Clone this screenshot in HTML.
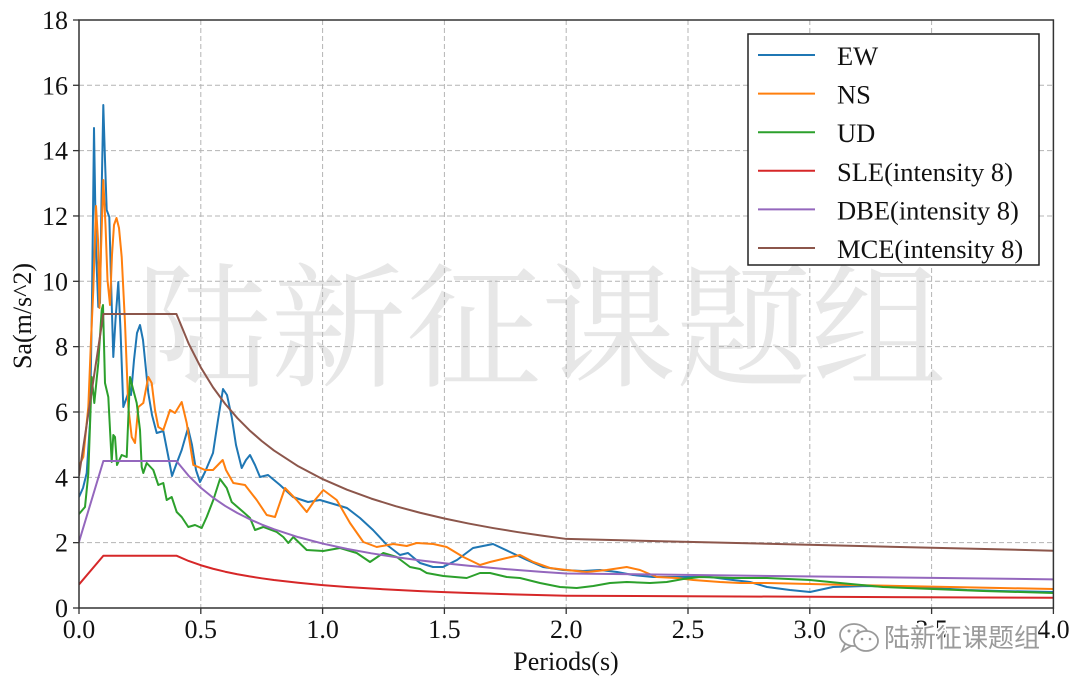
<!DOCTYPE html>
<html><head><meta charset="utf-8"><style>
html,body{margin:0;padding:0;background:#fff;}
svg{display:block;}
text{font-family:"Liberation Serif","Noto Serif CJK SC",serif;}
</style></head><body>
<svg width="1080" height="686" viewBox="0 0 1080 686" xmlns="http://www.w3.org/2000/svg">
<defs><clipPath id="pa"><rect x="79" y="20" width="974.4" height="588"/></clipPath></defs>
<rect width="1080" height="686" fill="#fff"/>
<!-- big watermark -->
<text x="136" y="376" font-size="135" fill="#e7e7e7" style="font-family:'Noto Serif CJK SC','Noto Sans CJK SC',serif">陆新征课题组</text>
<!-- grid -->
<g stroke="#b4b4b4" stroke-width="1" stroke-dasharray="5,3" fill="none">
<line x1="200.8" y1="20" x2="200.8" y2="608"/><line x1="322.6" y1="20" x2="322.6" y2="608"/>
<line x1="444.4" y1="20" x2="444.4" y2="608"/><line x1="566.2" y1="20" x2="566.2" y2="608"/>
<line x1="688" y1="20" x2="688" y2="608"/><line x1="809.8" y1="20" x2="809.8" y2="608"/>
<line x1="931.6" y1="20" x2="931.6" y2="608"/>
<line x1="79" y1="542.66" x2="1053.4" y2="542.66"/><line x1="79" y1="477.32" x2="1053.4" y2="477.32"/>
<line x1="79" y1="411.98" x2="1053.4" y2="411.98"/><line x1="79" y1="346.64" x2="1053.4" y2="346.64"/>
<line x1="79" y1="281.3" x2="1053.4" y2="281.3"/><line x1="79" y1="215.96" x2="1053.4" y2="215.96"/>
<line x1="79" y1="150.62" x2="1053.4" y2="150.62"/><line x1="79" y1="85.28" x2="1053.4" y2="85.28"/>
</g>
<g clip-path="url(#pa)" fill="none" stroke-width="2" stroke-linejoin="round">
<!-- EW -->
<polyline stroke="#1f77b4" points="79,497 83,488 86.7,473 90,423 92,300 94,128 96,250 98.3,307 100,303 101.5,200 103.3,105 105,160 106.7,210 109.3,217 111,280 113.3,357 115.5,320 118.3,282 120.5,330 123.3,407 128.3,393 131,395 134,360 137,333 140,325 143,340 148.3,393 152,415 156.7,433 163.3,431 168,455 172,476 176,465 181.7,450 188,428 192,445 196,470 200,482 205,472 213,453 218,420 223,389 227,395 231.7,417 236,445 241.7,468 246,460 250,455 255,465 260,477 268,475 280,485 293,497 308,502 320,500 337,505 347,508 360,518 373,530 387,545 400,555 408,553 420,563 433,567 443,567 457,560 473,548 493,544 510,552 527,560 543,567 563,570 583,571 600,570 617,572 633,575 653,577 673,577 693,577 710,577 733,580 750,582 767,587 790,590 810,592 833,587 867,586 900,587 933,588 967,590 1000,591 1054,592"/>
<!-- NS -->
<polyline stroke="#ff7f0e" points="79,466 83.3,457 88.3,407 91,340 93.3,290 96,206 98,240 99.5,308 101,250 103.3,180 105.5,225 107.5,280 110,305 112,255 114,225 116.5,218 119,228 121.7,257 125,323 128.3,407 131.7,437 135,443 138.3,407 143.3,403 148.3,377 151.7,383 155,410 158.3,427 163.3,430 170,410 175,413 181.7,402 186.7,423 193.3,465 198.3,467 205,470 213,470 222.7,460 226,470 233.3,483 245,485 256.7,500 266.7,515 275,517 285,488 296.7,500 306.7,512 315,500 323.3,490 336.7,500 350,523 363.3,542 376.7,547 393.3,544 406.7,546 416.7,543 433.3,544 446.7,547 463.3,557 480,565 490,562 506.7,558 520,555 533.3,562 550,568 566.7,570 586.7,572 606.7,570 626.7,567 640,570 656.7,577 676.7,578 693.3,580 720,582 740,583 766.7,583 810,584 850,585 900,586 950,587 1000,588 1054,589"/>
<!-- UD -->
<polyline stroke="#2ca02c" points="79,514 85,507 88.3,474 91.7,377 94.3,403 98.3,363 101.7,310 103,305 105,383 108.3,397 111.7,462 113.3,435 115,437 117,465 121.7,455 126.7,457 130,377 133.3,390 136.7,403 140,430 141.7,467 143.3,473 146.7,463 153.3,470 158.3,485 163.3,483 166.7,500 171.7,497 176.7,512 181.7,517 188.3,527 195,525 201.7,528 206.7,517 213.3,500 220,479 226.7,488 231.7,502 243.3,512 250,518 255,530 263.3,527 276.7,532 283.3,537 288.3,543 293.3,537 306.7,550 323.3,551 340,548 356.7,553 370,562 383.3,553 396.7,557 410,567 420,569 426.7,573 443.3,576 466.7,578 480,573 490,573 506.7,577 520,578 540,583 560,587 576.7,588 593.3,586 610,583 626.7,582 650,583 666.7,582 683.3,579 700,577 733,578 767,578 810,580 840,583 883,587 933,589 983,591 1054,593"/>
<!-- SLE -->
<polyline stroke="#d62728" points="79,584.48 103.36,555.73 176.44,555.73 188.62,560.99 200.8,565.24 212.98,568.75 225.16,571.71 237.34,574.23 249.52,576.41 261.7,578.31 273.88,579.99 298.24,582.8 322.6,585.08 346.96,586.97 371.32,588.55 395.68,589.9 420.04,591.07 444.4,592.09 468.76,592.99 493.12,593.79 517.48,594.5 541.84,595.14 566.2,595.72 1053.4,597.81"/>
<!-- DBE -->
<polyline stroke="#9467bd" points="79,541.84 103.36,460.98 176.44,460.98 188.62,475.78 200.8,487.73 212.98,497.62 225.16,505.93 237.34,513.03 249.52,519.16 261.7,524.51 273.88,529.22 298.24,537.14 322.6,543.55 346.96,548.84 371.32,553.31 395.68,557.1 420.04,560.38 444.4,563.26 468.76,565.78 493.12,568.03 517.48,570.03 541.84,571.83 566.2,573.47 1053.4,579.35"/>
<!-- MCE -->
<polyline stroke="#8c564b" points="79,475.69 103.36,313.97 176.44,313.97 188.62,343.55 200.8,367.45 212.98,387.24 225.16,403.85 237.34,418.06 249.52,430.32 261.7,441.02 273.88,450.43 298.24,466.28 322.6,479.1 346.96,489.68 371.32,498.62 395.68,506.21 420.04,512.76 444.4,518.53 468.76,523.55 493.12,528.05 517.48,532.05 541.84,535.67 566.2,538.93 1053.4,550.69"/>
</g>
<!-- frame -->
<rect x="79" y="20" width="974.4" height="588" fill="none" stroke="#333" stroke-width="1.5"/>
<!-- ticks -->
<g stroke="#333" stroke-width="1.3">
<line x1="79" y1="608" x2="79" y2="614"/><line x1="200.8" y1="608" x2="200.8" y2="614"/>
<line x1="322.6" y1="608" x2="322.6" y2="614"/><line x1="444.4" y1="608" x2="444.4" y2="614"/>
<line x1="566.2" y1="608" x2="566.2" y2="614"/><line x1="688" y1="608" x2="688" y2="614"/>
<line x1="809.8" y1="608" x2="809.8" y2="614"/><line x1="931.6" y1="608" x2="931.6" y2="614"/>
<line x1="1053.4" y1="608" x2="1053.4" y2="614"/>
<line x1="73" y1="608" x2="79" y2="608"/><line x1="73" y1="542.66" x2="79" y2="542.66"/>
<line x1="73" y1="477.32" x2="79" y2="477.32"/><line x1="73" y1="411.98" x2="79" y2="411.98"/>
<line x1="73" y1="346.64" x2="79" y2="346.64"/><line x1="73" y1="281.3" x2="79" y2="281.3"/>
<line x1="73" y1="215.96" x2="79" y2="215.96"/><line x1="73" y1="150.62" x2="79" y2="150.62"/>
<line x1="73" y1="85.28" x2="79" y2="85.28"/><line x1="73" y1="20" x2="79" y2="20"/>
</g>
<g font-size="26" fill="#111" text-anchor="middle">
<text x="79" y="638">0.0</text><text x="200.8" y="638">0.5</text><text x="322.6" y="638">1.0</text>
<text x="444.4" y="638">1.5</text><text x="566.2" y="638">2.0</text><text x="688" y="638">2.5</text>
<text x="809.8" y="638">3.0</text><text x="931.6" y="638">3.5</text><text x="1053.4" y="638">4.0</text>
</g>
<g font-size="26" fill="#111" text-anchor="end">
<text x="68" y="617">0</text><text x="68" y="551.7">2</text><text x="68" y="486.3">4</text>
<text x="68" y="421">6</text><text x="68" y="355.6">8</text><text x="68" y="290.3">10</text>
<text x="68" y="225">12</text><text x="68" y="159.6">14</text><text x="68" y="94.3">16</text>
<text x="68" y="29">18</text>
</g>
<text x="566" y="670" font-size="26" fill="#111" text-anchor="middle">Periods(s)</text>
<text transform="translate(31,316) rotate(-90)" font-size="26" fill="#111" text-anchor="middle">Sa(m/s^2)</text>
<!-- legend -->
<rect x="748" y="34" width="291" height="231" fill="#fff" stroke="#222" stroke-width="1.5"/>
<g stroke-width="2">
<line x1="758" y1="55" x2="815" y2="55" stroke="#1f77b4"/>
<line x1="758" y1="93.6" x2="815" y2="93.6" stroke="#ff7f0e"/>
<line x1="758" y1="132.2" x2="815" y2="132.2" stroke="#2ca02c"/>
<line x1="758" y1="170.8" x2="815" y2="170.8" stroke="#d62728"/>
<line x1="758" y1="209.4" x2="815" y2="209.4" stroke="#9467bd"/>
<line x1="758" y1="248" x2="815" y2="248" stroke="#8c564b"/>
</g>
<g font-size="26.5" fill="#111">
<text x="837" y="65">EW</text>
<text x="837" y="103.6">NS</text>
<text x="837" y="142.2">UD</text>
<text x="837" y="180.8">SLE(intensity 8)</text>
<text x="837" y="219.4">DBE(intensity 8)</text>
<text x="837" y="258">MCE(intensity 8)</text>
</g>
<!-- bottom-right watermark -->
<g fill="none" stroke="#fff" stroke-width="4">
<ellipse cx="854" cy="635" rx="14" ry="11"/><ellipse cx="866" cy="641" rx="12" ry="10"/>
</g>
<g fill="none" stroke="#9a9a9a" stroke-width="1.8">
<ellipse cx="854" cy="635" rx="14" ry="11"/><ellipse cx="866" cy="641" rx="12" ry="10" fill="#fff"/>
<path d="M845 644 L842 651 L851 646"/>
</g>
<g fill="#9a9a9a"><circle cx="849" cy="631" r="1.5"/><circle cx="858" cy="631" r="1.5"/><circle cx="862" cy="639" r="1.3"/><circle cx="870" cy="639" r="1.3"/></g>
<text x="884" y="647" font-size="26" fill="#9a9a9a" stroke="#fff" stroke-width="3" paint-order="stroke" style="font-family:'Noto Sans CJK SC','WenQuanYi Zen Hei',sans-serif">陆新征课题组</text>
</svg>
</body></html>
